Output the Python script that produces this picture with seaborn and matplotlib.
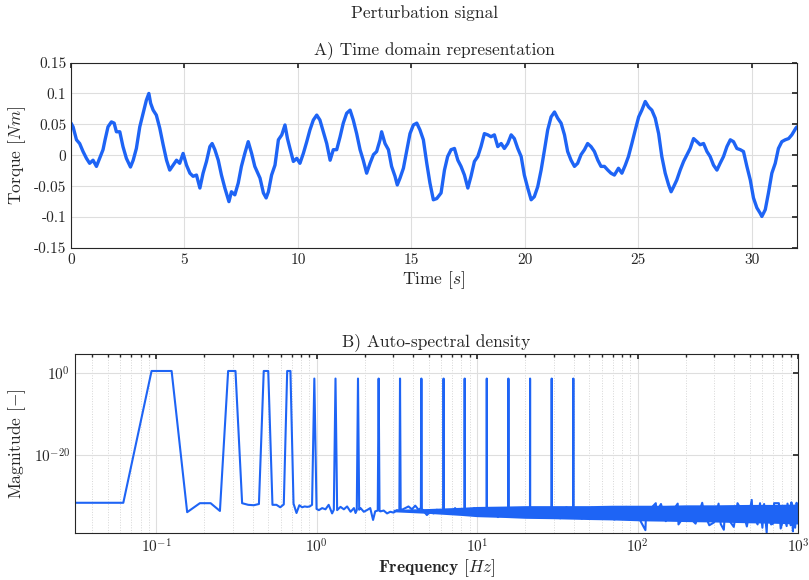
import numpy as np
import pandas as pd
import matplotlib
matplotlib.use("Agg")
import matplotlib.pyplot as plt
import matplotlib.ticker as mticker
import seaborn as sns

# Time domain signal (s, Nm)
time_s = [0.0, 0.09, 0.24, 0.38, 0.53, 0.68, 0.82, 0.97, 1.12, 1.26, 1.41, 1.5, 1.63, 1.78, 1.9,
          2.0, 2.15, 2.29, 2.44, 2.62, 2.74, 2.88, 3.03, 3.18, 3.32, 3.43, 3.51, 3.62, 3.76, 3.91,
          4.06, 4.21, 4.35, 4.5, 4.65, 4.79, 4.94, 5.09, 5.24, 5.38, 5.53, 5.68, 5.82, 5.97,
          6.12, 6.22, 6.34, 6.49, 6.63, 6.78, 6.96, 7.07, 7.22, 7.37, 7.51, 7.66, 7.81, 7.96,
          8.1, 8.33, 8.48, 8.6, 8.7, 8.84, 8.99, 9.14, 9.29, 9.43, 9.54, 9.65, 9.8, 9.95,
          10.09, 10.24, 10.39, 10.53, 10.68, 10.83, 10.97, 11.12, 11.27, 11.42, 11.56, 11.71, 11.86,
          12.0, 12.15, 12.3, 12.44, 12.59, 12.74, 12.88, 13.03, 13.18, 13.33, 13.47, 13.62, 13.69,
          13.84, 13.99, 14.13, 14.28, 14.38, 14.5, 14.65, 14.79, 14.94, 15.09, 15.24, 15.38, 15.53,
          15.68, 15.82, 15.97, 16.12, 16.31, 16.46, 16.6, 16.75, 16.9, 17.05, 17.19, 17.34, 17.49,
          17.63, 17.78, 17.93, 18.07, 18.22, 18.37, 18.51, 18.66, 18.81, 18.96, 19.1, 19.25, 19.4,
          19.54, 19.69, 19.84, 19.98, 20.13, 20.28, 20.42, 20.57, 20.72, 20.87, 21.01, 21.16, 21.31,
          21.45, 21.6, 21.75, 21.89, 22.04, 22.19, 22.33, 22.48, 22.63, 22.77, 22.92, 23.07, 23.22,
          23.36, 23.51, 23.66, 23.8, 23.95, 24.13, 24.28, 24.43, 24.57, 24.72, 24.87, 25.02, 25.16,
          25.31, 25.46, 25.6, 25.75, 25.9, 26.04, 26.19, 26.34, 26.45, 26.56, 26.7, 26.85, 27.0,
          27.15, 27.29, 27.44, 27.59, 27.73, 27.88, 28.03, 28.17, 28.32, 28.47, 28.61, 28.76, 28.91,
          29.06, 29.2, 29.35, 29.5, 29.64, 29.79, 29.94, 30.08, 30.23, 30.38, 30.45, 30.6, 30.74,
          30.89, 31.04, 31.18, 31.33, 31.48, 31.63, 31.77, 31.95, 32.0]
torque = [0.052, 0.046, 0.025, 0.019, 0.006, -0.005, -0.013, -0.008, -0.018, -0.005, 0.009, 0.025,
          0.046, 0.054, 0.052, 0.038, 0.038, 0.014, -0.005, -0.019, -0.008, 0.011, 0.046, 0.068,
          0.089, 0.1, 0.084, 0.073, 0.065, 0.044, 0.017, -0.008, -0.024, -0.016, -0.008, -0.013,
          0.003, -0.016, -0.029, -0.034, -0.032, -0.053, -0.029, -0.010, 0.014, 0.019, 0.009,
          -0.008, -0.032, -0.053, -0.075, -0.059, -0.064, -0.045, -0.018, 0.003, 0.022, 0.003,
          -0.018, -0.037, -0.061, -0.069, -0.059, -0.032, -0.016, 0.025, 0.033, 0.049, 0.027,
          0.011, -0.010, -0.005, -0.013, 0.003, 0.022, 0.041, 0.057, 0.065, 0.057, 0.038, 0.019,
          -0.008, 0.009, 0.009, 0.030, 0.052, 0.068, 0.073, 0.057, 0.035, 0.009, -0.008, -0.029,
          -0.013, 0.001, 0.006, 0.025, 0.038, 0.019, 0.009, -0.018, -0.034, -0.048, -0.037, -0.021,
          0.006, 0.035, 0.049, 0.052, 0.041, 0.025, -0.013, -0.045, -0.072, -0.070, -0.061, -0.024,
          -0.002, 0.009, 0.011, -0.008, -0.018, -0.032, -0.053, -0.034, -0.010, -0.002, 0.014,
          0.035, 0.033, 0.030, 0.033, 0.014, 0.019, 0.011, 0.019, 0.033, 0.027, 0.011, -0.002,
          -0.032, -0.053, -0.072, -0.067, -0.051, -0.024, 0.009, 0.041, 0.062, 0.070, 0.060, 0.052,
          0.033, 0.006, -0.008, -0.018, -0.013, 0.001, 0.009, 0.019, 0.014, 0.006, -0.008, -0.018,
          -0.018, -0.024, -0.029, -0.032, -0.021, -0.029, -0.016, -0.002, 0.019, 0.041, 0.062,
          0.073, 0.087, 0.078, 0.073, 0.060, 0.035, -0.002, -0.029, -0.048, -0.059, -0.051, -0.040,
          -0.024, -0.010, 0.001, 0.011, 0.027, 0.022, 0.017, 0.019, 0.006, -0.002, -0.016, -0.024,
          -0.013, -0.002, 0.014, 0.025, 0.022, 0.011, 0.009, 0.006, -0.018, -0.040, -0.069, -0.085,
          -0.094, -0.099, -0.088, -0.061, -0.029, -0.013, 0.011, 0.022, 0.025, 0.027, 0.033, 0.044,
          0.046]

# Auto-spectral density, frequency (Hz) and log10 magnitude
spec_freq = [0.03125, 0.0625, 0.09375, 0.125, 0.15625, 0.1875, 0.21875, 0.25, 0.28125, 0.3125,
             0.34375, 0.375, 0.40625, 0.4375, 0.46875, 0.5, 0.53125, 0.5625, 0.59375, 0.625,
             0.65625, 0.6875, 0.71875, 0.75, 0.78125, 0.8125, 0.84375, 0.875, 0.90625, 0.9375,
             0.96875, 1.0, 1.034, 1.084, 1.137, 1.19, 1.25, 1.28125, 1.3125, 1.34375, 1.41, 1.48,
             1.55, 1.63, 1.71, 1.75, 1.78125, 1.8125, 1.84375, 1.88, 1.97, 2.06, 2.16, 2.25, 2.32,
             2.40625, 2.4375, 2.46875, 2.5, 2.62, 2.75, 2.88, 3.02, 3.17, 3.28125, 3.3125, 3.34375,
             3.41, 3.57, 3.74, 3.93, 4.12, 4.32, 4.46875, 4.5, 4.53125, 4.87, 5.11, 5.36, 5.62,
             5.89, 6.15625, 6.1875, 6.21875, 6.63, 6.96, 7.3, 7.65, 8.03, 8.34375, 8.375, 8.40625,
             9.0, 9.6, 10.2, 10.8, 11.46875, 11.5, 11.53125, 12.5, 13.5, 14.6, 15.65625, 15.6875,
             15.71875, 17.0, 18.5, 20.0, 21.375, 21.40625, 21.4375, 23.5, 26.0, 29.15625, 29.1875,
             29.21875, 33.0, 36.0, 39.78125, 39.8125, 39.84375, 45.0, 52.0, 60.0, 72.0, 85.0,
             100.0, 112.0, 113.0, 125.0, 130.0, 131.0, 140.0, 150.0, 178.0, 180.0, 200.0, 230.0,
             253.0, 260.0, 280.0, 300.0, 320.0, 330.0, 345.0, 350.0, 398.0, 420.0, 460.0, 480.0,
             515.0, 520.0, 560.0, 580.0, 600.0, 615.0, 638.0, 645.0, 680.0, 700.0, 710.0, 760.0,
             780.0, 820.0, 850.0, 860.0, 900.0, 910.0, 930.0, 940.0, 960.0, 980.0, 1000.0]
spec_logmag = [-31.7, -31.7, 0.55, 0.55, -34.0, -31.8, -31.8, -33.7, 0.55, 0.55,
               -31.8, -32.2, -32.3, -32.0, 0.55, 0.55, -32.2, -32.2, -32.8, -32.1,
               0.55, 0.55, -31.9, -34.2, -32.3, -32.8, -32.6, -32.7, -32.6, -32.2,
               -1.3, -33.2, -33.5, -33.0, -33.3, -32.2, -34.3, -33.4, -1.3, -33.5, -32.7, -33.3,
               -32.6, -33.9, -33.0, -34.2, -33.5, -1.3, -33.4, -33.0, -33.9, -33.5, -33.0, -35.9, -33.8,
               -33.6, -1.3, -33.7, -33.8, -33.6, -34.3, -33.9, -34.1, -33.5, -33.7, -1.3, -33.6,
               -33.4, -33.0, -32.6, -33.3, -32.4, -33.4, -33.0, -1.3, -33.2, -34.7, -33.9, -34.3, -33.4,
               -34.0, -33.7, -1.3, -33.6, -34.3, -33.9, -33.0, -34.2, -33.5, -33.6, -1.3, -33.8,
               -34.5, -33.0, -34.8, -33.4, -33.8, -1.3, -33.8, -33.0, -35.2, -33.3, -33.7, -1.3,
               -33.9, -34.6, -33.1, -35.0, -33.6, -1.3, -33.8, -33.0, -35.4, -33.7, -1.3,
               -33.9, -35.5, -32.8, -33.8, -1.3, -33.9, -35.6, -32.9, -34.4, -35.8, -32.7,
               -34.8, -38.4, -34.5, -32.5, -31.8, -34.0, -32.0, -36.2, -31.9, -37.0, -34.4, -36.8,
               -31.7, -34.2, -37.2, -36.5, -31.9, -36.9, -38.3, -34.5, -37.6, -31.8, -34.6, -37.5,
               -31.0, -34.2, -37.0, -31.8, -37.8, -32.0, -39.0, -34.3, -37.0, -36.8, -31.8, -31.8,
               -38.0, -35.0, -37.4, -31.9, -37.2, -31.6, -38.7, -34.0, -37.8, -31.7, -34.2]

# Envelope of the dense noise floor above ~3 Hz (log10 magnitude)
band_freq = [3, 5, 8, 10, 15, 20, 30, 50, 70, 100, 150, 200, 300, 500, 700, 1000]
band_hi = [-33.3, -33.1, -32.8, -32.6, -32.5, -32.4, -32.4, -32.4, -32.3, -32.3, -32.3, -32.2,
           -32.2, -32.1, -32.1, -32.0]
band_lo = [-33.9, -34.3, -34.8, -35.1, -35.3, -35.5, -35.6, -35.8, -35.9, -36.1, -36.2, -36.3,
           -36.4, -36.6, -36.7, -36.9]

line_color = "#1e64f5"
axis_color = "#262626"
grid_color = "#dedede"

sns.set_theme(style="white")
plt.rcParams.update({
    "font.family": "serif",
    "font.serif": ["cmr10"],
    "mathtext.fontset": "cm",
    "axes.formatter.use_mathtext": True,
    "axes.unicode_minus": False,
    "xtick.direction": "in",
    "ytick.direction": "in",
    "xtick.top": True,
    "ytick.right": True,
    "xtick.major.size": 3.5,
    "ytick.major.size": 3.5,
    "xtick.minor.size": 2,
    "xtick.color": axis_color,
    "ytick.color": axis_color,
    "axes.edgecolor": axis_color,
    "axes.linewidth": 0.8,
    "xtick.labelsize": 11,
    "ytick.labelsize": 11,
})

df_time = pd.DataFrame({"t": time_s, "torque": torque})
df_spec = pd.DataFrame({"f": spec_freq, "mag": 10.0 ** np.array(spec_logmag)})

fig = plt.figure(figsize=(8.09, 5.8), dpi=100)
ax1 = fig.add_axes([0.0878, 0.5724, 0.8974, 0.3198])
ax2 = fig.add_axes([0.0927, 0.0810, 0.8937, 0.3086])

fig.text(0.525, 0.978, "Perturbation signal", ha="center", va="center", fontsize=12.5)

# A) time domain
sns.lineplot(data=df_time, x="t", y="torque", ax=ax1, color=line_color, lw=2.4,
             estimator=None, sort=False)
ax1.set_xlim(0, 32)
ax1.set_ylim(-0.15, 0.15)
ax1.set_xticks([0, 5, 10, 15, 20, 25, 30])
ax1.set_xticklabels(["0", "5", "10", "15", "20", "25", "30"])
ax1.set_yticks([-0.15, -0.1, -0.05, 0, 0.05, 0.1, 0.15])
ax1.set_yticklabels(["-0.15", "-0.1", "-0.05", "0", "0.05", "0.1", "0.15"])
ax1.grid(True, color=grid_color, lw=0.8)
ax1.set_axisbelow(True)
ax1.set_title("A) Time domain representation", fontsize=12.5, pad=6)
ax1.set_xlabel(r"Time [$s$]", fontsize=12.5, labelpad=2)
ax1.set_ylabel(r"Torque [$Nm$]", fontsize=12.5, labelpad=4)

# B) auto-spectral density
ax2.set_xscale("log")
ax2.set_yscale("log")
ax2.fill_between(band_freq, 10.0 ** np.array(band_lo), 10.0 ** np.array(band_hi),
                 color=line_color, lw=0)
sns.lineplot(data=df_spec, x="f", y="mag", ax=ax2, color=line_color, lw=1.5,
             estimator=None, sort=False)
ax2.set_xlim(0.03125, 1000)
ax2.set_ylim(10 ** -39.1, 10 ** 4.7)
ax2.set_yticks([1e-20, 1e0])
ax2.yaxis.set_minor_locator(mticker.NullLocator())
ax2.xaxis.set_minor_locator(mticker.LogLocator(base=10, subs=np.arange(2, 10)))
ax2.xaxis.set_minor_formatter(mticker.NullFormatter())
ax2.grid(True, which="major", color=grid_color, lw=0.8)
ax2.grid(True, which="minor", axis="x", color="#d6d6d6", lw=0.7, ls=":")
ax2.set_axisbelow(True)
ax2.set_title("B) Auto-spectral density", fontsize=12.5, pad=6)
ax2.set_xlabel(r"$\mathbf{Frequency}$ [$Hz$]", fontsize=12.5, labelpad=1)
ax2.set_ylabel(r"Magnitude [$-$]", fontsize=12.5, labelpad=4)

fig.savefig("out.png", dpi=100)
plt.close(fig)
